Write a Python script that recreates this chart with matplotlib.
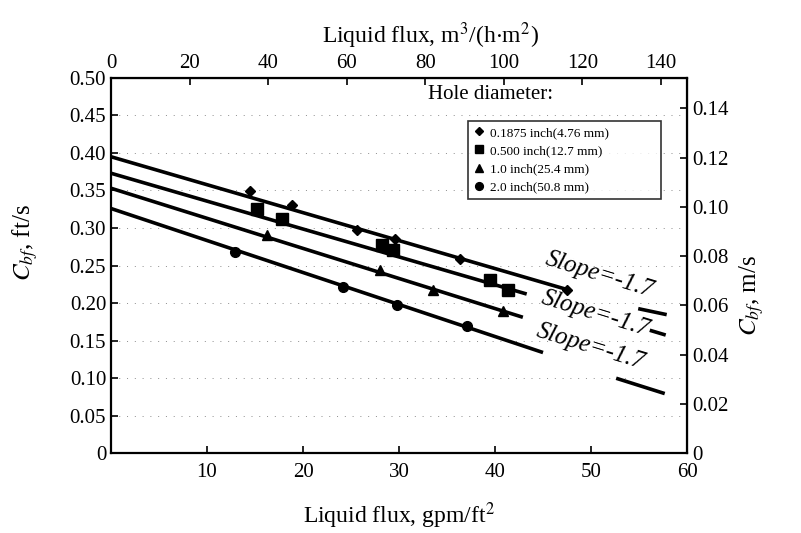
import matplotlib
matplotlib.use("Agg")
import matplotlib.pyplot as plt
from matplotlib.ticker import FixedLocator, FuncFormatter

plt.rcParams["font.family"] = ["Liberation Serif", "DejaVu Serif"]
plt.rcParams["mathtext.fontset"] = "stix"

GPM_FT2_TO_M3_H_M2 = 2.4447
FT_TO_M = 0.3048

# correlation lines: (start, end) per hole size, x in gpm/ft2, y in ft/s
line_x0 = [0, 0, 0, 0]
line_x1 = [47.5, 43.3, 42.9, 45.0]
line_y0 = [0.395, 0.373, 0.353, 0.326]
line_y1 = [0.218, 0.212, 0.181, 0.134]

# short continuation pieces past the slope labels
ext_x0 = [55.1, 56.3, None, 52.8]
ext_x1 = [57.7, 57.6, None, 57.5]
ext_y0 = [0.192, 0.163, None, 0.099]
ext_y1 = [0.185, 0.158, None, 0.080]

# measured points
d_x = [14.5, 18.9, 25.6, 29.6, 36.4, 47.5]
d_y = [0.349, 0.331, 0.298, 0.286, 0.259, 0.218]
s_x = [15.2, 17.8, 28.2, 29.4, 39.5, 41.4]
s_y = [0.326, 0.312, 0.277, 0.271, 0.231, 0.218]
t_x = [16.3, 28.0, 33.5, 40.8]
t_y = [0.291, 0.244, 0.218, 0.190]
c_x = [12.9, 24.2, 29.8, 37.1]
c_y = [0.268, 0.221, 0.198, 0.170]

labels = [
    "0.1875 inch(4.76 mm)",
    "0.500 inch(12.7 mm)",
    "1.0 inch(25.4 mm)",
    "2.0 inch(50.8 mm)",
]

slope_x = [50.9, 50.5, 49.9]
slope_y = [0.238, 0.186, 0.141]

fig = plt.figure(figsize=(8.01, 5.33), dpi=100)
ax = fig.add_axes([0.1386, 0.1500, 0.7191, 0.7037])

for i in range(4):
    ax.plot([line_x0[i], line_x1[i]], [line_y0[i], line_y1[i]], color="black", lw=2.6,
            solid_capstyle="butt")
    if ext_x0[i] is not None:
        ax.plot([ext_x0[i], ext_x1[i]], [ext_y0[i], ext_y1[i]], color="black", lw=2.6)

ax.plot(d_x, d_y, "D", color="black", ms=5, ls="none", label=labels[0])
ax.plot(s_x, s_y, "s", color="black", ms=8, ls="none", label=labels[1])
ax.plot(t_x, t_y, "^", color="black", ms=7, ls="none", label=labels[2])
ax.plot(c_x, c_y, "o", color="black", ms=7, ls="none", label=labels[3])

for x, y in zip(slope_x, slope_y):
    ax.text(x, y, "Slope=-1.7", fontsize=18, style="italic", rotation=-17,
            ha="center", va="center", rotation_mode="anchor")

ax.set_xlim(0, 60)
ax.set_ylim(0, 0.5)
ax.xaxis.set_major_locator(FixedLocator([10, 20, 30, 40, 50, 60]))
ax.yaxis.set_major_locator(FixedLocator([0, 0.05, 0.10, 0.15, 0.20, 0.25, 0.30, 0.35, 0.40, 0.45, 0.50]))
ax.yaxis.set_major_formatter(FuncFormatter(lambda v, p: "0" if v == 0 else f"{v:.2f}"))
ax.tick_params(direction="in", length=5, width=1.2, labelsize=15)
ax.tick_params(axis="x", pad=7)
ax.grid(axis="y", color="0.55", lw=0.7, ls=(0, (1, 7)))
for sp in ax.spines.values():
    sp.set_linewidth(1.6)

ax.set_xlabel("Liquid flux, gpm/ft$^2$", fontsize=17)
ax.xaxis.set_label_coords(0.50, -0.125)
ax.set_ylabel("$C_{bf}$, ft/s", fontsize=18)
ax.yaxis.set_label_coords(-0.123, 0.56)

top = ax.secondary_xaxis("top", functions=(lambda x: x * GPM_FT2_TO_M3_H_M2,
                                           lambda x: x / GPM_FT2_TO_M3_H_M2))
top.xaxis.set_major_locator(FixedLocator([0, 20, 40, 60, 80, 100, 120, 140]))
top.tick_params(direction="in", length=5, width=1.2, labelsize=15)
top.set_xlabel("Liquid flux, m$^3$/(h$\\cdot$m$^2$)", fontsize=17, labelpad=8)
top.xaxis.label.set_x(0.555)

right = ax.secondary_yaxis("right", functions=(lambda y: y * FT_TO_M, lambda y: y / FT_TO_M))
right.yaxis.set_major_locator(FixedLocator([0, 0.02, 0.04, 0.06, 0.08, 0.10, 0.12, 0.14]))
right.yaxis.set_major_formatter(FuncFormatter(lambda v, p: "0" if v == 0 else f"{v:.2f}"))
right.tick_params(direction="in", length=5, width=1.2, labelsize=15)
right.set_ylabel("$C_{bf}$, m/s", fontsize=18, labelpad=6)
right.yaxis.label.set_y(0.42)

ax.text(0.55, 0.955, "Hole diameter:", transform=ax.transAxes, fontsize=15,
        ha="left", va="center")
leg = ax.legend(loc="upper left", bbox_to_anchor=(0.609, 0.677, 0.358, 0.225),
                mode="expand", fontsize=9.5, frameon=True, fancybox=False,
                handlelength=0.8, handletextpad=0.4, labelspacing=0.45,
                borderpad=0.4, markerscale=0.8)
leg.get_frame().set_edgecolor("black")
leg.get_frame().set_linewidth(1.2)

fig.savefig("out.png", dpi=100)
